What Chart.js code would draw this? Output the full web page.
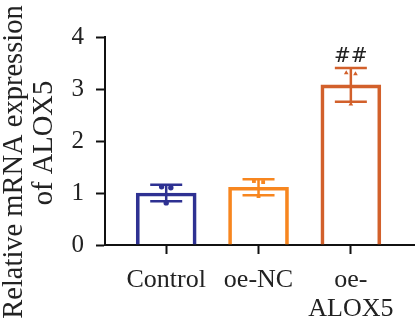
<!DOCTYPE html>
<html>
<head>
<meta charset="utf-8">
<script src="https://cdn.jsdelivr.net/npm/chart.js@4.4.1/dist/chart.umd.min.js"></script>
<style>
    html, body { margin: 0; padding: 0; background: #fff; }
    canvas { display: block; }
</style>
</head>
<body>
<canvas id="alox5-chart" width="418" height="326"></canvas>
<script>
'use strict';

// values
const categories = ['Control', 'oe-NC', 'oe-ALOX5'];
const tickLabels = ['Control', 'oe-NC', ['oe-', 'ALOX5']];
const meanValues = [1.00, 1.11, 3.08];
const sdValues = [0.16, 0.155, 0.325];
const replicateValues = [
    [1.12, 1.10, 0.81],
    [1.23, 1.21, 0.94],
    [3.31, 3.29, 2.71],
];
const replicateOffsets = [-0.05, 0.05, 0];
const significance = ['', '', '##'];
const yTicks = [0, 1, 2, 3, 4];
const titleLines = ['Relative mRNA expression', 'of ALOX5'];

const barColors = ['#2e3192', '#f7861f', '#d2602b'];
const pointStyles = ['circle', 'rect', 'triangle'];
const serif = '"Liberation Serif", "DejaVu Serif", serif';

const barDataset = {
    type: 'bar',
    data: categories.map((c, i) => ({ x: i + 1, y: meanValues[i] })),
    backgroundColor: 'rgba(255,255,255,0)',
    borderColor: barColors,
    borderWidth: 3,
    borderSkipped: 'bottom',
    barThickness: 60,
    order: 2,
};

const pointDatasets = categories.map((c, i) => ({
    type: 'scatter',
    data: replicateValues[i].map((v, j) => ({ x: i + 1 + replicateOffsets[j], y: v })),
    pointStyle: pointStyles[i],
    pointRadius: 2.7,
    pointBorderWidth: 0,
    pointBackgroundColor: barColors[i],
    order: 1,
}));

const errorBarPlugin = {
    id: 'errorBars',
    afterDatasetDraw(chart, args) {
        if (args.index !== 0) return;
        const { ctx, scales: { x, y } } = chart;
        ctx.save();
        ctx.lineWidth = 2.5;
        meanValues.forEach((m, i) => {
            const px = x.getPixelForValue(i + 1);
            const top = y.getPixelForValue(m + sdValues[i]);
            const bottom = y.getPixelForValue(m - sdValues[i]);
            ctx.strokeStyle = barColors[i];
            ctx.beginPath();
            ctx.moveTo(px, top);
            ctx.lineTo(px, bottom);
            ctx.moveTo(px - 16, top);
            ctx.lineTo(px + 16, top);
            ctx.moveTo(px - 16, bottom);
            ctx.lineTo(px + 16, bottom);
            ctx.stroke();
            if (significance[i]) {
                ctx.fillStyle = '#222';
                ctx.font = '20px "DejaVu Serif", serif';
                ctx.textAlign = 'center';
                ctx.textBaseline = 'alphabetic';
                ctx.fillText(significance[i], px, top - 6);
            }
        });
        ctx.restore();
    },
};

const axisTitlePlugin = {
    id: 'axisTitle',
    afterDraw(chart) {
        const { ctx, chartArea } = chart;
        const mid = (chartArea.top + chartArea.bottom) / 2;
        const placements = [
            { dx: -83, dy: 21 },
            { dx: -53, dy: 2 },
        ];
        ctx.save();
        ctx.fillStyle = '#222';
        ctx.font = '28.5px ' + serif;
        ctx.textAlign = 'center';
        ctx.textBaseline = 'alphabetic';
        titleLines.forEach((line, i) => {
            ctx.save();
            ctx.translate(chartArea.left + placements[i].dx, mid + placements[i].dy);
            ctx.rotate(-Math.PI / 2);
            ctx.fillText(line, 0, 0);
            ctx.restore();
        });
        ctx.restore();
    },
};

const chartElement = document.getElementById('alox5-chart');
const chart = new Chart(chartElement, {
    data: {
        datasets: [barDataset, ...pointDatasets],
    },
    options: {
        responsive: false,
        animation: false,
        layout: {
            padding: { top: 37, right: 0, bottom: 0, left: 0 },
        },
        scales: {
            x: {
                type: 'linear',
                offset: false,
                min: 0.337,
                max: 3.684,
                afterFit: function (scale) { scale.height = 81; },
                border: { display: true, color: '#111', width: 2 },
                grid: {
                    offset: false,
                    drawOnChartArea: false,
                    drawTicks: true,
                    tickLength: 9,
                    tickWidth: 2,
                    tickColor: '#111',
                },
                ticks: {
                    stepSize: 1,
                    includeBounds: false,
                    autoSkip: false,
                    maxRotation: 0,
                    padding: 11,
                    color: '#222',
                    font: { family: serif, size: 26, lineHeight: 1.14 },
                    callback: function (value) {
                        return Number.isInteger(value) ? tickLabels[value - 1] : '';
                    },
                },
            },
            y: {
                type: 'linear',
                min: yTicks[0],
                max: yTicks[yTicks.length - 1],
                afterFit: function (scale) { scale.width = 105; },
                border: { display: true, color: '#111', width: 2 },
                grid: {
                    drawOnChartArea: false,
                    drawTicks: true,
                    tickLength: 9,
                    tickWidth: 2,
                    tickColor: '#111',
                },
                ticks: {
                    stepSize: 1,
                    padding: 12,
                    color: '#222',
                    font: { family: serif, size: 25 },
                },
            },
        },
        plugins: {
            legend: { display: false },
            tooltip: { enabled: false },
        },
    },
    plugins: [errorBarPlugin, axisTitlePlugin],
});
</script>
</body>
</html>
